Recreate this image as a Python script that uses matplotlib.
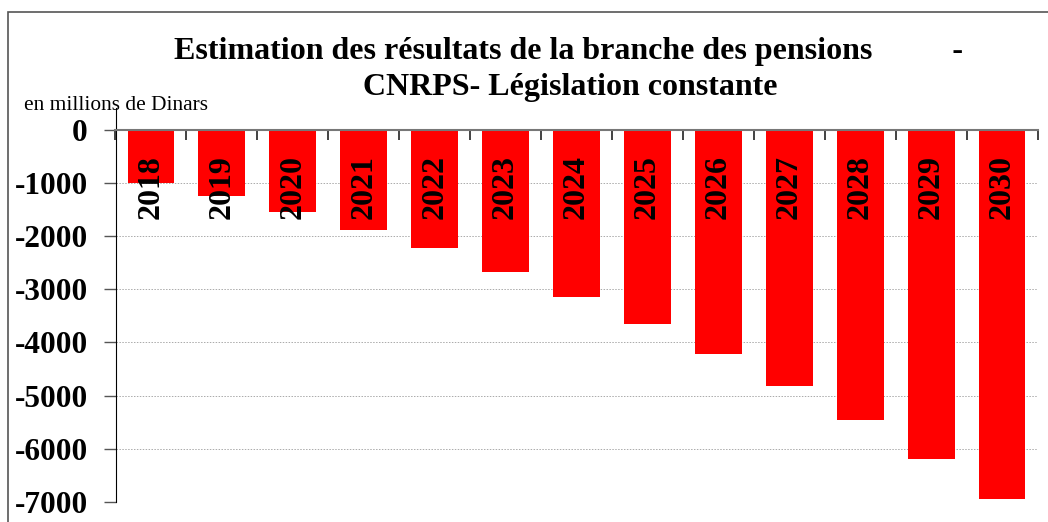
import numpy as np
import matplotlib
matplotlib.use("Agg")
import matplotlib.pyplot as plt
from matplotlib.patches import Rectangle

# data (millions de Dinars)
years = ['2018', '2019', '2020', '2021', '2022', '2023', '2024',
         '2025', '2026', '2027', '2028', '2029', '2030']
results = [-1000, -1240, -1540, -1880, -2220, -2670, -3140,
           -3650, -4215, -4820, -5460, -6190, -6940]
yticks = [0, -1000, -2000, -3000, -4000, -5000, -6000, -7000]

plt.rcParams['font.family'] = ['Liberation Serif', 'DejaVu Serif']

fig = plt.figure(figsize=(10.48, 5.22), dpi=100)
W, H = 1048, 522

# outer frame of the chart
fig.patches.append(Rectangle((8 / W, -0.05), 1.2, (H - 12) / H + 0.05,
                             transform=fig.transFigure, fill=False,
                             edgecolor='#555555', linewidth=1.2))

ax = fig.add_axes([115.5 / W, 20 / H, (1037.5 - 115.5) / W, (502 - 108) / H])
x = np.arange(len(years))
ax.bar(x, results, width=0.66, color='#ff0000', zorder=3)

# year labels inside bars
for xi, yr in zip(x, years):
    ax.text(xi, -480, yr, rotation=90, ha='center', va='top',
            fontsize=23, fontweight='bold', zorder=4)

ax.set_xlim(-0.5, len(years) - 0.5)
ax.set_ylim(-7000, 410)
ax.set_yticks(yticks)
ax.set_yticklabels([str(v) for v in yticks], fontsize=22.5, fontweight='bold')
ax.tick_params(axis='y', direction='out', length=9, width=1, color='#555555', pad=11)
ax.grid(axis='y', linestyle=(0, (1.5, 1.5)), color='#aaaaaa', linewidth=0.7, zorder=0)

# category axis sitting at zero
ax.spines['bottom'].set_position(('data', 0))
ax.spines['bottom'].set_color('#777777')
ax.spines['bottom'].set_linewidth(1.5)
ax.spines['bottom'].set_zorder(5)
ax.set_xticks(np.arange(len(years) + 1) - 0.5)
ax.set_xticklabels([])
ax.tick_params(axis='x', direction='out', length=7, width=1.2, color='#222222')
ax.spines['top'].set_visible(False)
ax.spines['right'].set_visible(False)
ax.spines['left'].set_color('black')

fig.text(568 / W, 1 - 51 / H,
         'Estimation des résultats de la branche des pensions          -',
         ha='center', va='center', fontsize=23, fontweight='bold')
fig.text(570 / W, 1 - 88 / H, 'CNRPS- Législation constante',
         ha='center', va='center', fontsize=23, fontweight='bold')
fig.text(24 / W, 1 - 106 / H, 'en millions de Dinars', ha='left', va='center',
         fontsize=15.4)

fig.savefig('out.png', dpi=100)
